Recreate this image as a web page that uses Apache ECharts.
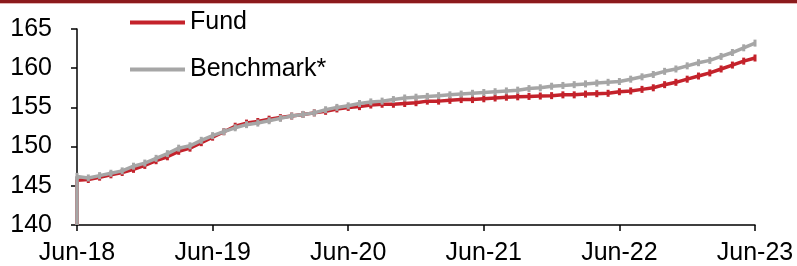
<!DOCTYPE html>
<html>
<head>
<meta charset="utf-8">
<script src="https://cdn.jsdelivr.net/npm/echarts@6/dist/echarts.min.js"></script>
<style>
html,body{margin:0;padding:0;background:#fff;}
#c{width:797px;height:266px;}
</style>
</head>
<body>
<div id="c"></div>
<script>
// Monthly index values, Jun-18 (month 0) to Jun-23 (month 60)
const tickLabels = ['Jun-18','Jun-19','Jun-20','Jun-21','Jun-22','Jun-23'];
const startValue = 140; // series drop to axis base at first date
const fund = [
  145.7,145.8,146.1,146.4,146.7,147.1,147.6,148.2,148.7,149.4,149.8,150.5,
  151.2,151.9,152.6,153.0,153.2,153.5,153.7,153.9,154.1,154.3,154.5,154.8,
  155.0,155.1,155.3,155.4,155.4,155.5,155.6,155.8,155.8,155.9,156.0,156.0,
  156.1,156.2,156.3,156.35,156.4,156.45,156.5,156.6,156.6,156.7,156.75,156.8,
  157.0,157.1,157.3,157.5,157.9,158.2,158.6,159.0,159.4,159.9,160.4,160.9,
  161.3
];
const bench = [
  146.2,146.0,146.3,146.6,146.9,147.5,147.9,148.5,149.1,149.8,150.1,150.8,
  151.4,151.9,152.4,152.8,153.0,153.3,153.6,153.9,154.1,154.3,154.7,155.0,
  155.2,155.5,155.7,155.8,156.0,156.2,156.3,156.4,156.5,156.6,156.7,156.8,
  156.9,157.0,157.1,157.2,157.4,157.5,157.7,157.8,157.9,158.0,158.1,158.2,
  158.3,158.6,158.9,159.2,159.6,159.9,160.3,160.7,161.0,161.5,162.0,162.6,
  163.2
];

function build(arr){
  const d = [{value:[0,startValue], symbol:'none'}];
  arr.forEach((v,i)=>d.push([i,v]));
  return d;
}

const font = '"Liberation Sans", Arial, sans-serif';
const fs = 25;
const chart = echarts.init(document.getElementById('c'), null, {renderer:'canvas'});
chart.setOption({
  animation:false,
  backgroundColor:'#fff',
  graphic:[
    {type:'rect', shape:{x:0,y:0,width:797,height:3}, style:{fill:'#8C1A1C'}, z:100},
    {type:'rect', shape:{x:0,y:3,width:797,height:1}, style:{fill:'#E2B4B4'}, z:100}
  ],
  grid:{left:77, right:42, top:29, bottom:41, containLabel:false},
  legend:{
    orient:'vertical', left:130, top:10, padding:0, itemWidth:55, itemHeight:4, itemGap:22,
    icon:'rect',
    textStyle:{fontFamily:font, fontSize:fs, color:'#000', padding:[0,0,0,0]},
    data:['Fund','Benchmark*']
  },
  xAxis:{
    type:'value', min:0, max:60, interval:12,
    axisLine:{show:true, lineStyle:{color:'#000', width:1.5}},
    axisTick:{show:true, length:6, lineStyle:{color:'#000', width:1.5}},
    splitLine:{show:false},
    axisLabel:{margin:16, fontFamily:font, fontSize:fs, color:'#000',
      formatter:(v)=>tickLabels[Math.round(v/12)]||''}
  },
  yAxis:{
    type:'value', min:140, max:165, interval:5,
    axisLine:{show:true, lineStyle:{color:'#000', width:1.5}},
    axisTick:{show:true, length:6, lineStyle:{color:'#000', width:1.5}},
    splitLine:{show:false},
    axisLabel:{margin:25, fontFamily:font, fontSize:fs, color:'#000'}
  },
  series:[
    {name:'Fund', type:'line', data:build(fund), color:'#C4222B',
     lineStyle:{width:3.5, color:'#C4222B'}, symbol:'rect', symbolSize:[3,7],
     itemStyle:{color:'#C4222B'}, showSymbol:true, z:2},
    {name:'Benchmark*', type:'line', data:build(bench), color:'#A6A6A6',
     lineStyle:{width:3.5, color:'#A6A6A6'}, symbol:'rect', symbolSize:[3,7],
     itemStyle:{color:'#A6A6A6'}, showSymbol:true, z:3}
  ]
});
</script>
</body>
</html>
